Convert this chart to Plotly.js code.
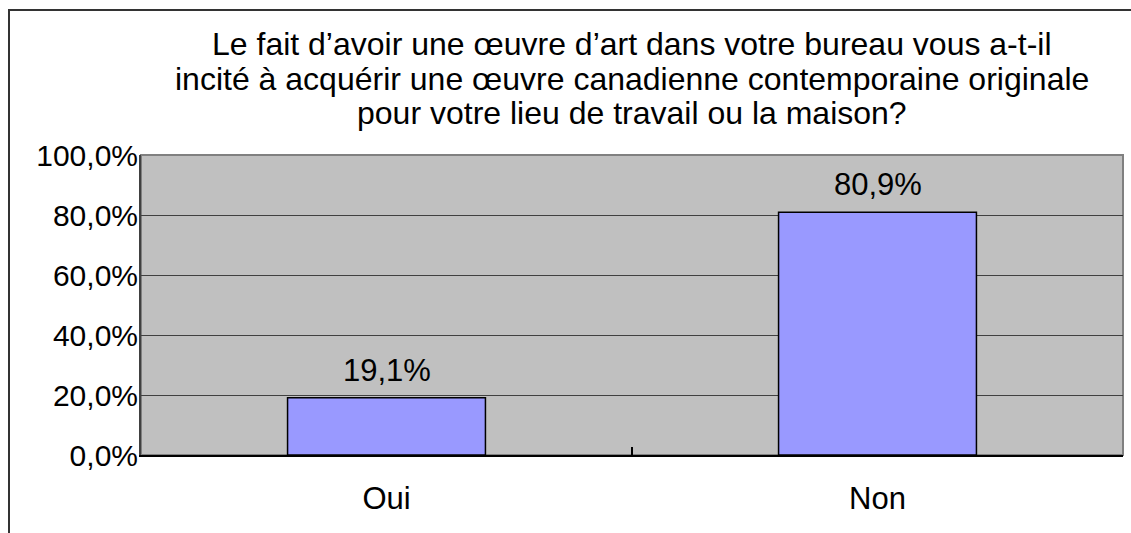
<!DOCTYPE html>
<html>
<head>
<meta charset="utf-8">
<script src="https://cdn.plot.ly/plotly-3.0.1.min.js"></script>
<style>
  body { margin: 0; background: #fff; }
  #frame { position: absolute; left: 8px; top: 9px; width: 1123px; height: 524px;
           border-left: 2px solid #333; border-top: 2px solid #333; }
  #chart { position: absolute; left: 0; top: 0; width: 1131px; height: 533px; }
</style>
</head>
<body>
<div id="frame"></div>
<div id="chart"></div>
<script>
// Chart data
const answers = ['Oui', 'Non'];
const percents = [19.1, 80.9];
const percentLabels = ['19,1%', '80,9%'];
const yTicks = [0, 20, 40, 60, 80, 100];
const yTickLabels = ['0,0%', '20,0%', '40,0%', '60,0%', '80,0%', '100,0%'];
const titleLines = [
    'Le fait d’avoir une œuvre d’art dans votre bureau vous a-t-il',
    'incité à acquérir une œuvre canadienne contemporaine originale',
    'pour votre lieu de travail ou la maison?'
];
const titleLineY = [44, 79, 113]; // pixel centres of each title line

const fontSize = 31;
const titleSize = 32;

const bars = [{
    x: answers,
    y: percents,
    type: 'bar',
    width: 0.403,
    marker: {
        color: '#9999ff',
        line: { color: '#000', width: 1.5 }
    },
    hoverinfo: 'x+y'
}];

// One annotation per title line, so the line spacing matches
const titleNotes = titleLines.map((line, i) => ({
    text: line,
    xref: 'paper', yref: 'paper',
    x: 0.5, xanchor: 'center',
    y: 1 + (155 - titleLineY[i]) / 300, yanchor: 'middle',
    showarrow: false,
    font: { size: titleSize, color: '#000' }
}));

// Value labels above the bars
const valueNotes = answers.map((a, i) => ({
    text: percentLabels[i],
    x: a, y: percents[i],
    xref: 'x', yref: 'y',
    yanchor: 'bottom',
    yshift: 8,
    showarrow: false,
    font: { size: fontSize, color: '#000' }
}));

const layout = {
    width: 1131,
    height: 533,
    margin: { l: 141, r: 8, t: 155, b: 78 },
    paper_bgcolor: 'rgba(0,0,0,0)',
    plot_bgcolor: '#c0c0c0',
    font: { family: 'Liberation Sans, Arial, sans-serif', size: fontSize, color: '#000' },
    showlegend: false,
    annotations: titleNotes.concat(valueNotes),
    xaxis: {
        type: 'category',
        showline: true,
        linecolor: '#000',
        linewidth: 2,
        ticks: 'inside',
        ticklen: 8,
        tickcolor: '#000',
        tickwidth: 2,
        tickson: 'boundaries',
        ticklabelstandoff: 15,
        showgrid: false,
        zeroline: false,
        tickfont: { size: fontSize }
    },
    yaxis: {
        range: [0, 100],
        tickvals: yTicks,
        ticktext: yTickLabels,
        showline: true,
        linecolor: '#404040',
        linewidth: 2,
        gridcolor: '#404040',
        gridwidth: 1,
        zeroline: false,
        ticks: '',
        ticklabelstandoff: -5,
        tickfont: { size: 30 }
    },
    shapes: [{
        type: 'rect', xref: 'paper', yref: 'paper',
        x0: 0, x1: 1, y0: 0, y1: 1,
        line: { color: '#808080', width: 2 },
        layer: 'below'
    }]
};

Plotly.newPlot('chart', bars, layout, { displayModeBar: false });
</script>
</body>
</html>
